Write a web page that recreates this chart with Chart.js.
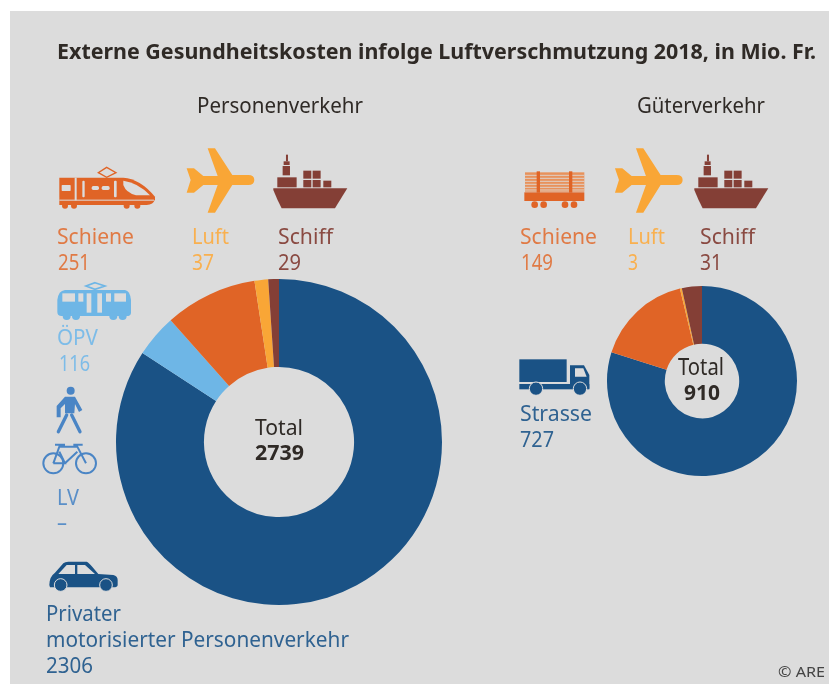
<!DOCTYPE html>
<html><head><meta charset="utf-8">
<script src="https://cdn.jsdelivr.net/npm/chart.js@4"></script>
<style>
html,body{margin:0;padding:0;background:#fff;overflow:hidden}
#wrap{position:relative;width:829px;height:684px;overflow:hidden}
#bg{position:absolute;left:10px;top:11px;width:819px;height:673px;background:#dcdcdc}
canvas{position:absolute}
svg{position:absolute;left:0;top:0}
svg text{font-family:"Noto Sans",sans-serif}
</style></head><body>
<div id="wrap">
<div id="bg"></div>
<canvas id="c1" width="330" height="330" style="left:114px;top:277px;width:330px;height:330px"></canvas>
<canvas id="c2" width="194" height="194" style="left:605px;top:284px;width:194px;height:194px"></canvas>
<svg id="ov" width="829" height="684" viewBox="0 0 829 684" xmlns="http://www.w3.org/2000/svg">
<g id="icons">
<!-- train -->
<g transform="translate(40,140) scale(.3333)" fill="#e06426">
<path d="M58 113H250Q300 116 345 170V178Q340 195 320 195H58Z"/>
<circle cx="75" cy="197" r="9"/><circle cx="102" cy="197" r="9"/><circle cx="260" cy="197" r="9"/><circle cx="292" cy="197" r="9"/>
<path d="M200 82L228 98L200 112L175 98Z" fill="none" stroke="#e06426" stroke-width="4"/>
<g fill="#dcdcdc"><rect x="65" y="135" width="27" height="18" rx="2"/><rect x="104" y="113" width="6" height="68"/><rect x="127" y="122" width="7" height="50" rx="3"/><rect x="155" y="138" width="22" height="12" rx="5"/><rect x="185" y="138" width="24" height="12" rx="5"/><rect x="222" y="122" width="8" height="50" rx="3"/><path d="M250 122Q295 128 330 166H288Q258 158 250 135Z"/><rect x="58" y="179" width="284" height="3"/></g>
</g>
<!-- planes -->
<defs><path id="plane" d="M440 85H462L490 108H533L503 25H525L577 105H625Q643 105 643 120Q643 135 625 135H577L525 218H503L533 135H490L462 158H440L452 120Z" fill="#f9a636"/>
<g id="ship" fill="#843f36"><path d="M700 145H922L885 205H725Q712 180 700 150Z"/><rect x="712" y="112" width="58" height="30"/><rect x="728" y="78" width="22" height="28"/><rect x="731" y="64" width="18" height="11"/><rect x="738" y="44" width="6" height="20"/><rect x="790" y="92" width="24" height="24"/><rect x="818" y="92" width="24" height="24"/><rect x="790" y="120" width="24" height="22"/><rect x="818" y="120" width="24" height="22"/><rect x="850" y="122" width="24" height="20"/></g></defs>
<use href="#plane" transform="translate(40,140) scale(.3333)"/>
<use href="#plane" transform="translate(468.3,140) scale(.3333)"/>
<use href="#ship" transform="translate(40,140) scale(.3333)"/>
<use href="#ship" transform="translate(461,140) scale(.3333)"/>
<!-- flat car -->
<g transform="translate(500,140) scale(.3333)">
<rect x="75" y="97" width="178" height="58" fill="#e8925c"/>
<path d="M75 106H253M75 115H253M75 124H253M75 133H253M75 142H253M75 150H253" stroke="#dcdcdc" stroke-width="2.5"/>
<g fill="#e06426"><rect x="110" y="94" width="10" height="64"/><rect x="207" y="94" width="10" height="64"/><rect x="73" y="157" width="180" height="26"/><circle cx="104" cy="194" r="10"/><circle cx="131" cy="194" r="10"/><circle cx="195" cy="194" r="10"/><circle cx="222" cy="194" r="10"/></g>
</g>
<!-- tram -->
<g transform="translate(30,280) scale(.3333)" fill="#6eb6e6">
<path d="M82 60Q85 32 105 30H285Q300 32 303 60V98Q303 108 290 108H95Q82 108 82 95Z"/>
<circle cx="110" cy="108" r="12"/><circle cx="138" cy="108" r="12"/><circle cx="250" cy="108" r="12"/><circle cx="278" cy="108" r="12"/>
<path d="M195 8L225 18L195 28L168 18Z" fill="none" stroke="#6eb6e6" stroke-width="5"/>
<g fill="#dcdcdc"><rect x="97" y="40" width="38" height="25"/><rect x="145" y="40" width="15" height="25"/><rect x="170" y="40" width="14" height="58"/><rect x="202" y="40" width="14" height="58"/><rect x="228" y="40" width="15" height="25"/><rect x="253" y="40" width="35" height="25"/></g>
</g>
<!-- pedestrian + bike -->
<g transform="translate(30,280) scale(.3333)" fill="#4a85c5">
<circle cx="122" cy="332" r="12"/>
<path d="M105 350H135L157 390L147 396L135 372L133 400H105V372L92 385V412H80V378Z"/>
<path d="M110 405L85 455M125 405L150 455" stroke="#4a85c5" stroke-width="10" stroke-linecap="round" fill="none"/>
<g fill="none" stroke="#4a85c5" stroke-width="6"><circle cx="70" cy="550" r="30"/><circle cx="168" cy="550" r="30"/><path d="M70 550L88 500L142 500L168 550M88 515L105 550H70M142 515L105 550M75 494H105M130 494H158"/></g>
</g>
<!-- car -->
<g transform="translate(30,550) scale(.3333)" fill="#1a5285">
<path d="M58 105Q58 80 75 68L100 40Q105 35 115 35H170Q175 35 205 72L250 75Q263 78 263 90V105Q263 112 250 112H60Z"/>
<path d="M85 72L110 45H135V72ZM142 45H165L195 72H142Z" fill="#dcdcdc"/>
<circle cx="92" cy="105" r="19" stroke="#dcdcdc" stroke-width="3"/><circle cx="228" cy="105" r="19" stroke="#dcdcdc" stroke-width="3"/>
</g>
<!-- truck -->
<g transform="translate(510,280) scale(.3333)" fill="#1a5285">
<rect x="28" y="238" width="142" height="68"/>
<path d="M180 256H222L238 285V326H180Z"/>
<path d="M195 265H220L230 290H195Z" fill="#dcdcdc"/>
<rect x="28" y="312" width="210" height="16"/>
<circle cx="78" cy="326" r="20" stroke="#dcdcdc" stroke-width="3"/><circle cx="210" cy="326" r="20" stroke="#dcdcdc" stroke-width="3"/>
</g>
</g>
<g id="texts"></g>
</svg>
</div>
<script>
const titleText = "Externe Gesundheitskosten infolge Luftverschmutzung 2018, in Mio. Fr.";
const sectionNames = ["Personenverkehr", "Güterverkehr"];
const passengerCategories = ["Privater motorisierter Personenverkehr", "ÖPV", "Schiene", "Luft", "Schiff"];
const passengerValues = [2306, 116, 251, 37, 29];
const passengerTotal = 2739;
const freightCategories = ["Strasse", "Schiene", "Luft", "Schiff"];
const freightValues = [727, 149, 3, 31];
const freightTotal = 910;
const passengerColors = ["#1a5285", "#6eb6e6", "#e06426", "#f9a636", "#843f36"];
const freightColors = ["#1a5285", "#e06426", "#f9a636", "#843f36"];

function donut(id, labels, data, colors, radius, hole) {
  new Chart(document.getElementById(id), {
    type: "doughnut",
    data: { labels, datasets: [{ data, backgroundColor: colors, borderWidth: 0, radius, cutout: hole }] },
    options: { responsive: false, animation: false, layout: { padding: 0 },
      plugins: { legend: { display: false }, tooltip: { enabled: false } } }
  });
}
donut("c1", passengerCategories, passengerValues, passengerColors, 163, 76);
donut("c2", freightCategories, freightValues, freightColors, 95, 38);

const NS = "http://www.w3.org/2000/svg";
const layer = document.getElementById("texts");
function t(str, x, y, w, size, fill, bold) {
  const el = document.createElementNS(NS, "text");
  el.textContent = String(str);
  el.setAttribute("x", x); el.setAttribute("y", y);
  el.setAttribute("font-size", size); el.setAttribute("fill", fill);
  if (bold) el.setAttribute("font-weight", "700");
  if (w) { el.setAttribute("textLength", w); el.setAttribute("lengthAdjust", "spacingAndGlyphs"); }
  layer.appendChild(el);
}
const ink = "#2f2a26", or = "#e07a45", ye = "#f9b04f", br = "#8a4a42", lb = "#7dbce8", nv = "#2f6291";
t(titleText, 57, 59, 759, 22, ink, true);
t(sectionNames[0], 197, 113, 166, 21, ink);
t(sectionNames[1], 637, 113, 128, 21, ink);
t(passengerCategories[2], 57, 244, 77, 22, or);
t(passengerValues[2], 58, 270, 32, 22, or);
t(passengerCategories[3], 192, 244, 37, 22, ye);
t(passengerValues[3], 192, 270, 22, 22, ye);
t(passengerCategories[4], 278, 244, 55, 22, br);
t(passengerValues[4], 278, 270, 23, 22, br);
t(freightCategories[1], 520, 244, 77, 22, or);
t(freightValues[1], 521, 270, 32, 22, or);
t(freightCategories[2], 628, 244, 37, 22, ye);
t(freightValues[2], 628, 270, 10, 22, ye);
t(freightCategories[3], 700, 244, 55, 22, br);
t(freightValues[3], 700, 270, 22, 22, br);
t(passengerCategories[1], 57, 345, 41, 22, lb);
t(passengerValues[1], 59, 371, 31, 22, lb);
t("LV", 57, 505, 22, 22, "#5a8fc8");
t("–", 57, 530, 10, 22, "#5a8fc8");
t("Privater", 46, 621, 75, 22, nv);
t("motorisierter Personenverkehr", 46, 647, 303, 22, nv);
t(passengerValues[0], 46, 673, 47, 22, nv);
t(freightCategories[0], 520, 421, 72, 22, nv);
t(freightValues[0], 520, 447, 34, 22, nv);
t("Total", 255, 435, 48, 22, ink);
t(passengerTotal, 255, 460, 49, 22, ink, true);
t("Total", 678, 375, 46, 23, ink);
t(freightTotal, 684, 400, 36, 22, ink, true);
t("© ARE", 778, 677, 47, 15, "#444");
</script>
</body></html>
